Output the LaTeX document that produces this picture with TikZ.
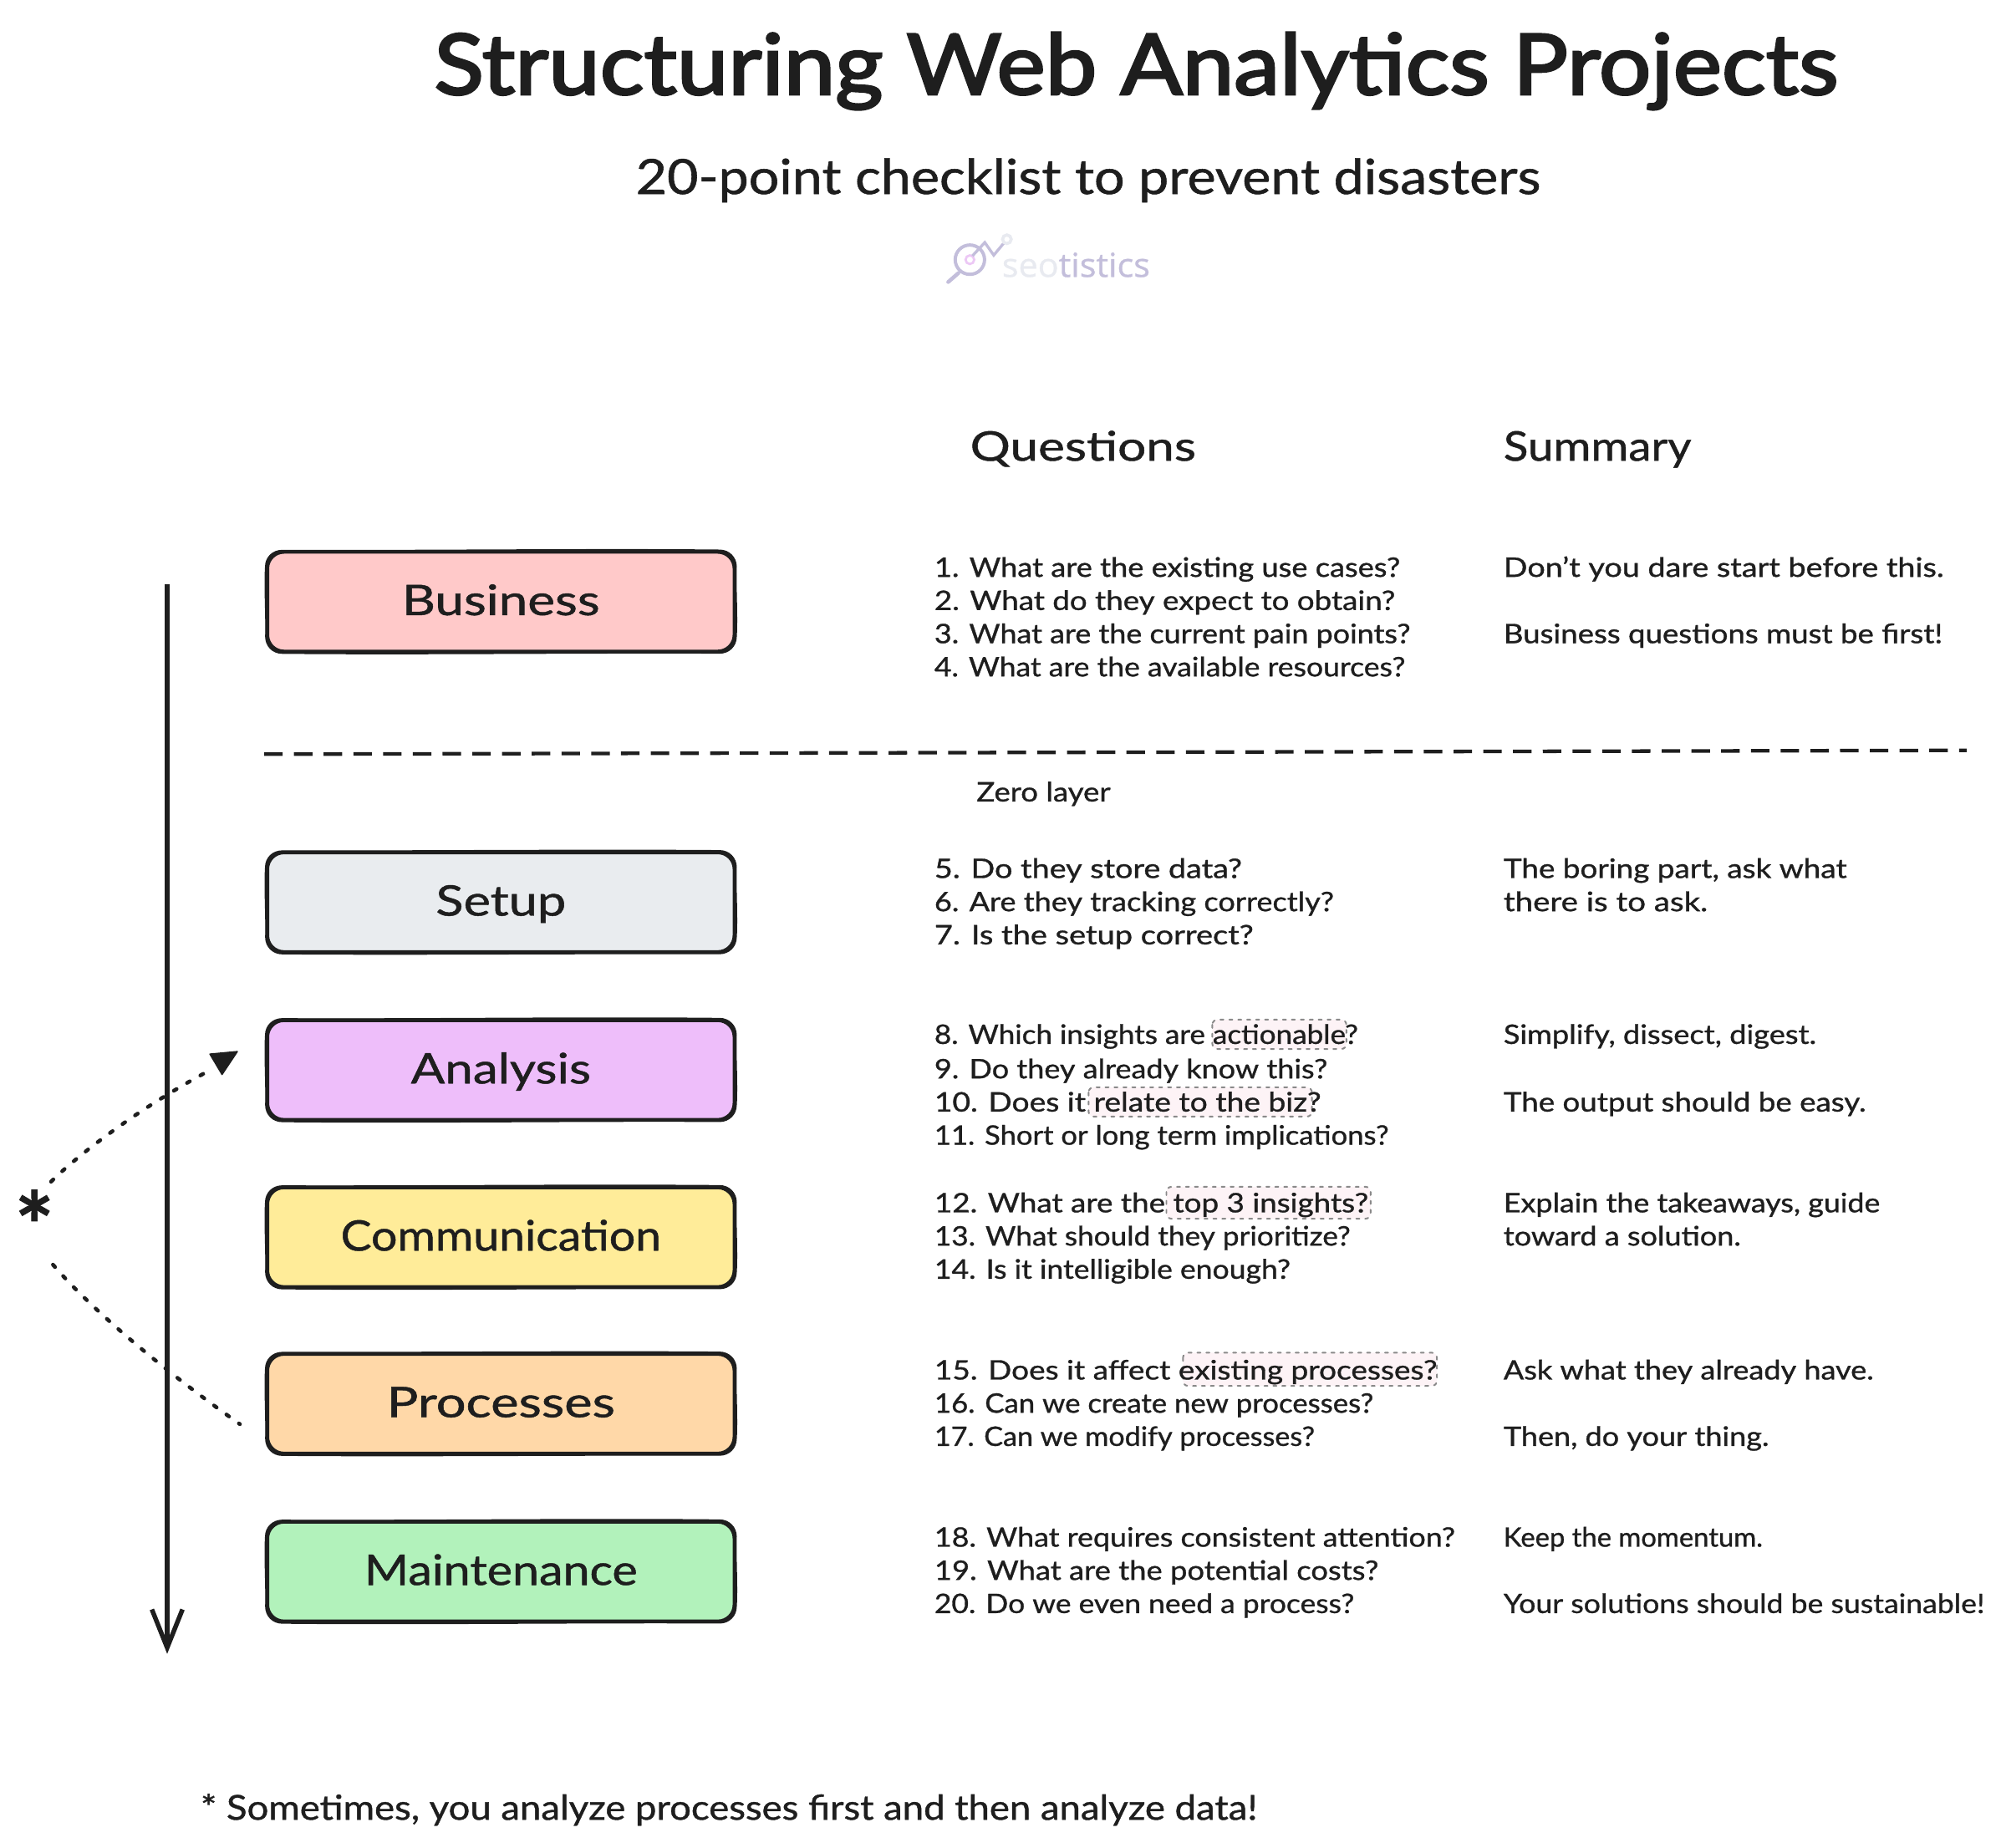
\documentclass[tikz,border=0pt]{standalone}
\usepackage{fontspec}
\usepackage{graphicx}
\usetikzlibrary{arrows.meta,calc}
\setmainfont{Lato}[RawFeature={embolden=0.9}]
\newfontfamily\titlefont{Lato}[RawFeature={embolden=2.6}]
\newfontfamily\logofont{Open Sans}[RawFeature={embolden=0.8}]
\definecolor{ink}{HTML}{1E1E1E}
\definecolor{hlfill}{HTML}{FDF3F6}
\definecolor{hlline}{HTML}{8A8A8A}
\definecolor{logoA}{HTML}{C3BEDB}
\definecolor{logoB}{HTML}{E8EAF0}
\definecolor{logoC}{HTML}{ECC8F5}
\definecolor{cbusiness}{HTML}{FFC9C9}
\definecolor{csetup}{HTML}{E9ECEF}
\definecolor{canalysis}{HTML}{EEBEFA}
\definecolor{ccomm}{HTML}{FFEC99}
\definecolor{cproc}{HTML}{FFD8A8}
\definecolor{cmaint}{HTML}{B2F2BB}
\tikzset{
  x=1pt,y=-1pt,
  txt/.style={anchor=base west,inner sep=0pt,text=ink},
  body/.style={txt,font=\fontsize{21}{26}\selectfont},
  stage/.style={draw=ink,line width=2.8pt,rounded corners=13pt,minimum width=366pt,minimum height=78pt,inner sep=0pt,
     text=ink,font=\fontsize{33}{36}\selectfont,text height=28pt,text depth=7pt,anchor=center},
  restroke/.style={draw=ink,line width=1.3pt},
  hl/.style={fill=hlfill,draw=hlline,line width=1.3pt,line cap=round,dash pattern=on 2.5pt off 4.5pt,rounded corners=4pt},
  dots/.style={draw=ink,line width=3pt,line cap=round,dash pattern=on 2.5pt off 9.5pt},
}
\newcommand{\tl}[5]{\node[body,yshift=-1pt] (#1) at (#2,#3) {\resizebox{#4pt}{\height}{#5}};}
\newcommand{\stagebox}[6]{%
  \node[stage,fill=#3] (#1) at (392.5,#2) {\resizebox{#4pt}{\height}{#5}};
  \draw[restroke] ($(#1.north west)+(13,0.4)$)
    .. controls ($(#1.north)+(-70,#6)$) and ($(#1.north)+(70,-#6)$) .. ($(#1.north east)+(-13,0.2)$)
    .. controls ($(#1.north east)+(-5.8,0.2)$) and ($(#1.north east)+(-0.2,5.8)$) .. ($(#1.north east)+(-0.2,13)$)
    .. controls ($(#1.east)+(-0.8,-12)$) and ($(#1.east)+(0.8,12)$) .. ($(#1.south east)+(-0.2,-13)$)
    .. controls ($(#1.south east)+(-0.2,-5.8)$) and ($(#1.south east)+(-5.8,-0.3)$) .. ($(#1.south east)+(-13,-0.3)$)
    .. controls ($(#1.south)+(70,-#6)$) and ($(#1.south)+(-70,#6)$) .. ($(#1.south west)+(13,-0.2)$)
    .. controls ($(#1.south west)+(5.8,-0.2)$) and ($(#1.south west)+(0.3,-5.8)$) .. ($(#1.south west)+(0.3,-13)$)
    .. controls ($(#1.west)+(0.8,12)$) and ($(#1.west)+(-0.8,-12)$) .. ($(#1.north west)+(0.2,13)$)
    .. controls ($(#1.north west)+(0.2,5.8)$) and ($(#1.north west)+(5.8,0.4)$) .. ($(#1.north west)+(13,0.4)$);}
\begin{document}
\begin{tikzpicture}
\useasboundingbox (0,0) rectangle (1568,1447.5);
% title block
\node[txt,font=\titlefont\fontsize{66}{70}\selectfont] (title) at (340,74) {\resizebox{1100pt}{\height}{Structuring Web Analytics Projects}};
\node[txt,font=\fontsize{38}{42}\selectfont] (subtitle) at (498,152) {\resizebox{709pt}{\height}{20-point checklist to prevent disasters}};
% logo
\draw[logoA,line width=3pt,line cap=round] (751,214) -- (743,221);
\draw[logoA,line width=2.6pt] (760,203.5) circle (11.5);
\draw[logoC,line width=1.8pt] (760,203.5) circle (3.4);
\draw[logoA,line width=2.2pt,line join=miter] (762,200.5) -- (771.7,190) -- (778.7,200) -- (787,190);
\draw[logoB,line width=2.4pt] (789,187.5) circle (3.4);
\node[txt,font=\logofont\fontsize{26}{28}\selectfont] (logo) at (785,217) {\resizebox{116pt}{\height}{\textcolor{logoB}{seo}\textcolor{logoA}{tistics}}};
% headers
\node[txt,font=\fontsize{32}{36}\selectfont] (hq) at (760,361) {\resizebox{177pt}{\height}{Questions}};
\node[txt,font=\fontsize{32}{36}\selectfont] (hs) at (1178,361) {\resizebox{147pt}{\height}{Summary}};
% stage boxes
\stagebox{business}{471.5}{cbusiness}{155}{Business}{0.9}
\stagebox{setup}{707}{csetup}{102}{Setup}{0.7}
\stagebox{analysis}{838.5}{canalysis}{141}{Analysis}{1.0}
\stagebox{communication}{969.5}{ccomm}{251}{Communication}{0.8}
\stagebox{processes}{1100}{cproc}{179}{Processes}{0.7}
\stagebox{maintenance}{1231.5}{cmaint}{214}{Maintenance}{1.0}
% main timeline arrow
\coordinate (axisA) at (131,458);
\coordinate (axisB) at (131,1296);
\draw[ink,line width=3.6pt,-{Straight Barb[length=30pt,width=24pt]}] (axisA) -- (axisB);
% dashed divider
\coordinate (divA) at (207,591);
\coordinate (divB) at (1541,588);
\draw[ink,line width=2.8pt,dash pattern=on 14.5pt off 8.8pt] (divA) -- (divB);
\tl{zero}{765}{627}{105}{Zero layer}
% asterisk side note
\node[txt,font=\bfseries\fontsize{72}{72}\selectfont] (star) at (11.5,987) {*};
\coordinate (upA) at (40,926);
\coordinate (upB) at (162,840);
\coordinate (dnA) at (41.5,991);
\coordinate (dnB) at (188,1116);
\draw[dots] (upA) .. controls (62,904) and (110,868) .. (upB);
\fill[ink,line join=round] (164.5,826) -- (186,824) -- (174,842) -- cycle;
\draw[ink,line join=round,line width=1pt] (164.5,826) -- (186,824) -- (174,842) -- cycle;
\draw[dots] (dnA) .. controls (68,1022) and (120,1068) .. (dnB);
% highlights
\path[hl] (950,799) rectangle (1055,822);
\path[hl] (853,852) rectangle (1028,875);
\path[hl] (914,930) rectangle (1074,955);
\path[hl] (927,1060) rectangle (1126,1086);
% business
\tl{qa}{732}{451}{365}{1. What are the existing use cases?}
\tl{qb}{732}{477}{361}{2. What do they expect to obtain?}
\tl{qc}{732}{503}{373}{3. What are the current pain points?}
\tl{qd}{732}{529}{369}{4. What are the available resources?}
\tl{sa}{1178}{451}{345}{Don't you dare start before this.}
\tl{sb}{1178}{503}{344}{Business questions must be first!}
% setup
\tl{qe}{732}{687}{241}{5. Do they store data?}
\tl{qf}{732}{713}{313}{6. Are they tracking correctly?}
\tl{qg}{732}{739}{250}{7. Is the setup correct?}
\tl{sc}{1178}{687}{269}{The boring part, ask what}
\tl{sd}{1178}{713}{160}{there is to ask.}
% analysis
\tl{qh}{732}{817}{332}{8. Which insights are actionable?}
\tl{qi}{732}{844}{308}{9. Do they already know this?}
\tl{qj}{732}{870}{303}{10. Does it relate to the biz?}
\tl{qk}{732}{896}{356}{11. Short or long term implications?}
\tl{se}{1178}{817}{245}{Simplify, dissect, digest.}
\tl{sf}{1178}{870}{284}{The output should be easy.}
% communication
\tl{ql}{732}{949}{340}{12. What are the top 3 insights?}
\tl{qm}{732}{975}{326}{13. What should they prioritize?}
\tl{qn}{732}{1001}{279}{14. Is it intelligible enough?}
\tl{sg}{1178}{949}{295}{Explain the takeaways, guide}
\tl{sh}{1178}{975}{186}{toward a solution.}
% processes
\tl{qo}{732}{1080}{394}{15. Does it affect existing processes?}
\tl{qp}{732}{1106}{344}{16. Can we create new processes?}
\tl{qq}{732}{1132}{298}{17. Can we modify processes?}
\tl{si}{1178}{1080}{290}{Ask what they already have.}
\tl{sj}{1178}{1132}{208}{Then, do your thing.}
% maintenance
\tl{qr}{732}{1211}{408}{18. What requires consistent attention?}
\tl{qs}{732}{1237}{348}{19. What are the potential costs?}
\tl{qt}{732}{1263}{329}{20. Do we even need a process?}
\tl{sk}{1178}{1211}{203}{Keep the momentum.}
\tl{sl}{1178}{1263}{377}{Your solutions should be sustainable!}
% footnote
\node[txt,font=\fontsize{27}{30}\selectfont] (foot) at (157,1426) {\resizebox{828pt}{\height}{* Sometimes, you analyze processes first and then analyze data!}};
\end{tikzpicture}
\end{document}
